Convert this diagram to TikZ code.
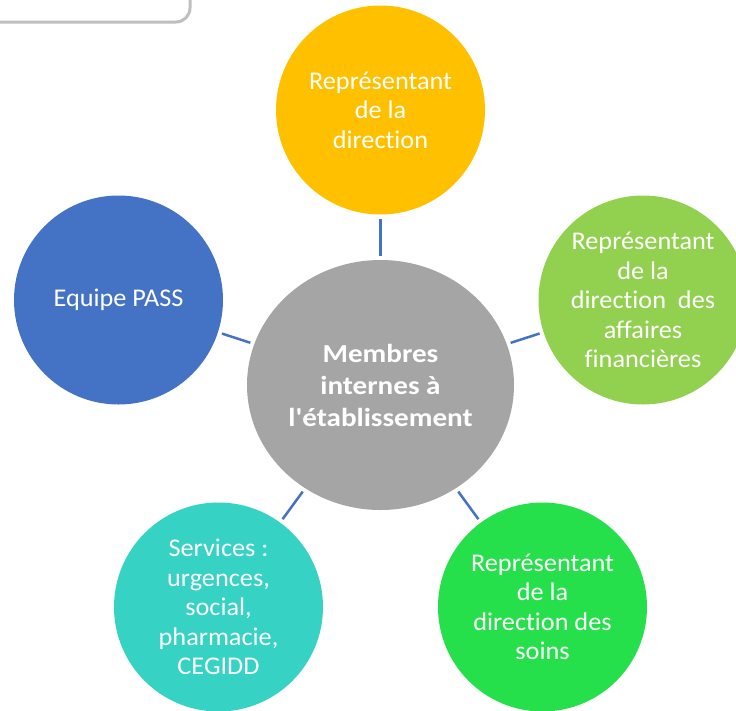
\documentclass[tikz,border=0pt]{standalone}
\usepackage{fontspec}
\setmainfont{Carlito}[FakeStretch=1.03, Ligatures=NoCommon]
\newfontfamily\hubfont{Carlito}[FakeStretch=1.12, Ligatures={TeXOff,NoCommon}]
\usetikzlibrary{shapes.geometric}
\definecolor{cyellow}{HTML}{FFC000}
\definecolor{cblue}{HTML}{4472C4}
\definecolor{clime}{HTML}{92D050}
\definecolor{cgrey}{HTML}{A5A5A5}
\definecolor{cteal}{HTML}{36D2C4}
\definecolor{cgreen}{HTML}{26E04B}
\definecolor{cframe}{HTML}{BFBFBF}
\tikzset{
  bubble/.style={circle, minimum size=209pt, inner sep=0pt, text=white, align=center,
    font=\fontsize{25.5}{29.5}\selectfont},
  hub/.style={ellipse, minimum width=267pt, minimum height=250pt, inner sep=0pt, fill=cgrey,
    text=white, align=center, font=\hubfont\fontsize{26}{32}\selectfont\bfseries},
  link/.style={draw=cblue, line width=2.5pt, shorten <=4pt, shorten >=4pt}
}
\begin{document}
\begin{tikzpicture}[x=1pt,y=-1pt]
\useasboundingbox (0,0) rectangle (736,710);
\clip (0,0) rectangle (736,710);
\draw[cframe, line width=3pt, rounded corners=14pt] (-20,-20) rectangle (190,22);
\node[hub] (hub) at (380.5,385) {Membres\\internes à\\l'établissement};
\node[bubble, fill=cyellow] (top) at (380.5,110) {Représentant\\de la\\direction};
\node[bubble, fill=clime] (fin) at (643,300) {Représentant\\de la\\direction~~des\\affaires\\financières};
\node[bubble, fill=cgreen] (soins) at (542.5,607) {Représentant\\de la\\direction des\\soins};
\node[bubble, fill=cteal] (serv) at (218.5,607) {Services :\\urgences,\\social,\\pharmacie,\\CEGIDD};
\node[bubble, fill=cblue] (pass) at (118.5,300) {Equipe PASS};
\draw[link] (hub) -- (top);
\draw[link] (hub) -- (fin);
\draw[link] (hub) -- (soins);
\draw[link] (hub) -- (serv);
\draw[link] (hub) -- (pass);
\end{tikzpicture}
\end{document}
